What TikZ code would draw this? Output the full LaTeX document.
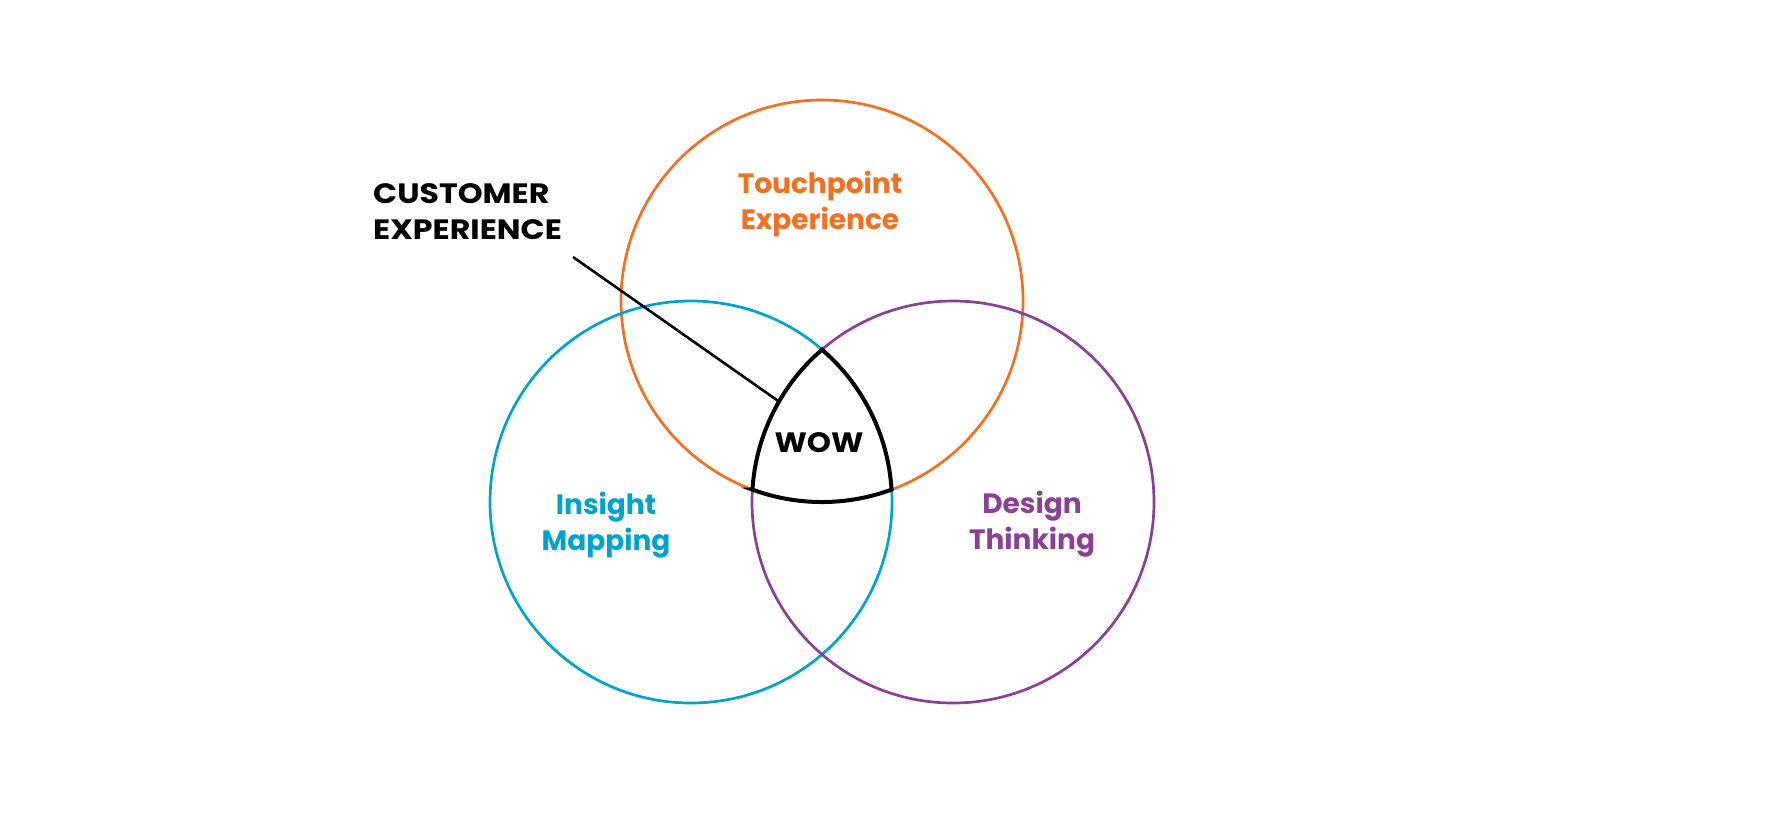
\documentclass[tikz,border=0pt]{standalone}
\usepackage{fontspec}
\setmainfont{Poppins}
\definecolor{corange}{RGB}{243,112,33}
\definecolor{cblue}{RGB}{0,163,208}
\definecolor{cpurple}{RGB}{139,64,152}
\begin{document}
\begin{tikzpicture}[x=1pt,y=-1pt,
  ring/.style={circle,draw,line width=2.7pt,minimum size=402pt,inner sep=0pt,outer sep=0pt},
  lbl/.style={font=\fontsize{28}{36}\selectfont\bfseries,inner sep=0pt,anchor=base,align=center},
  wowline/.style={draw=black,line width=4pt},
  lead/.style={draw=black,line width=2.6pt}]
\fill[white] (0,0) rectangle (1768,814);
\useasboundingbox (0,0) rectangle (1768,814);
\node[ring,draw=corange] (orangec) at (822,301) {};
\node[ring,draw=cblue] (bluec) at (691,502) {};
\node[ring,draw=cpurple] (purplec) at (953,502) {};
\draw[wowline] (752.4,489.6) arc[start angle=110.25,end angle=69.75,radius=201]
  arc[start angle=-3.54,end angle=-49.3,radius=201]
  arc[start angle=229.3,end angle=183.54,radius=201] -- cycle;
\node[lbl,text=corange] (tp) at (820,229) {Touchpoint\\Experience};
\node[lbl,text=cblue] (im) at (606,550) {Insight\\Mapping};
\node[lbl,text=cpurple] (dt) at (1032,549) {Design\\Thinking};
\node[lbl] (wow) at (819,452) {\scalebox{1.1}[1]{WOW}};
\node[lbl,anchor=base west,align=left] (cx) at (373,239) {\scalebox{1.13}[1]{CUSTOMER}\\\scalebox{1.13}[1]{EXPERIENCE}};
\coordinate (cxs) at (573,257);
\draw[lead] (cxs) -- (purplec.150.8);
\end{tikzpicture}
\end{document}
